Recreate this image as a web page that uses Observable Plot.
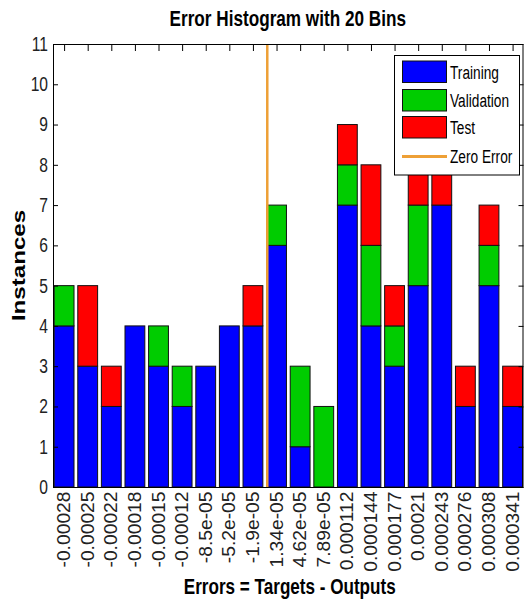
<!DOCTYPE html>
<html>
<head>
<meta charset="utf-8">
<script src="https://cdn.jsdelivr.net/npm/d3@7"></script>
<script src="https://cdn.jsdelivr.net/npm/@observablehq/plot@0.6"></script>
<style>
  html, body { margin: 0; padding: 0; background: #fff; }
  #chart { width: 524px; height: 602px; overflow: hidden; }
</style>
</head>
<body>
<div id="chart"></div>
<script>
// Bin centres as printed under each bar
const binLabels = ["-0.00028", "-0.00025", "-0.00022", "-0.00018", "-0.00015", "-0.00012",
  "-8.5e-05", "-5.2e-05", "-1.9e-05", "1.34e-05", "4.62e-05", "7.89e-05",
  "0.000112", "0.000144", "0.000177", "0.00021", "0.000243", "0.000276", "0.000308", "0.000341"];

// Instances per bin for each data split
const training   = [4, 3, 2, 4, 3, 2, 3, 4, 4, 6, 1, 0, 7, 4, 3, 5, 7, 2, 5, 2];
const validation = [1, 0, 0, 0, 1, 1, 0, 0, 0, 1, 2, 2, 1, 2, 1, 2, 0, 0, 1, 0];
const test       = [0, 2, 1, 0, 0, 0, 0, 0, 1, 0, 0, 0, 1, 2, 1, 1, 1, 1, 1, 1];

const seriesNames  = ["Training", "Validation", "Test"];
const seriesColors = ["#0000ff", "#00cc00", "#ff0000"];
const yTicks = [0, 1, 2, 3, 4, 5, 6, 7, 8, 9, 10, 11];

const titleText  = "Error Histogram with 20 Bins";
const xLabelText = "Errors = Targets - Outputs";
const yLabelText = "Instances";
const zeroLabel  = "Zero Error";

const FONT = "'Liberation Sans', Arial, Helvetica, sans-serif";
const ZERO_COLOR = "#eea036";

// Stack the three splits inside each bin
const segments = [];
binLabels.forEach((label, i) => {
  let base = 0;
  [training, validation, test].forEach((arr, s) => {
    const v = arr[i];
    if (v > 0) segments.push({bin: i, series: seriesNames[s], y1: base, y2: base + v});
    base += v;
  });
});

// Zero error falls between the last negative and first positive bin centre
const firstPos = binLabels.findIndex(l => +l > 0);
const lo = +binLabels[firstPos - 1], hi = +binLabels[firstPos];
const zeroIndex = (firstPos - 1) + (0 - lo) / (hi - lo);

const binIdx = binLabels.map((_, i) => i);
const half = 0.42;
const blank = () => "";

const M = {top: 44, right: 1.5, bottom: 115, left: 53};
const W = 524, H = 602;

const chart = Plot.plot({
  width: W,
  height: H,
  marginTop: M.top,
  marginBottom: M.bottom,
  marginLeft: M.left,
  marginRight: M.right,
  style: {fontFamily: FONT, background: "white", color: "black"},
  x: {type: "linear", domain: [-0.47, binLabels.length - 0.58]},
  y: {domain: [0, 11]},
  color: {domain: seriesNames, range: seriesColors},
  marks: [
    Plot.axisX(binIdx, {anchor: "bottom", tickSize: -5, tickFormat: blank, label: null}),
    Plot.rect(segments, {
      x1: d => d.bin - half, x2: d => d.bin + half,
      y1: "y1", y2: "y2",
      fill: "series", stroke: "#111", strokeWidth: 1
    }),
    Plot.ruleX([zeroIndex], {stroke: ZERO_COLOR, strokeWidth: 2.5}),
    Plot.axisX(binIdx, {anchor: "top", tickSize: -6, tickFormat: blank, label: null}),
    Plot.axisY(yTicks, {anchor: "right", tickSize: -5, tickFormat: blank, label: null}),
    Plot.axisY(yTicks, {anchor: "left", tickSize: -5, tickFormat: blank, label: null}),
    Plot.axisY(yTicks, {anchor: "left", tickSize: 0, tickPadding: 5.5, fontSize: 20,
      fill: "#222", tickFormat: d => String(d), label: null}),
    Plot.axisX(binIdx, {anchor: "bottom", tickSize: 0, tickPadding: 4, tickRotate: -90,
      fontSize: 17.5, fill: "#222", tickFormat: i => binLabels[i], label: null}),
    Plot.frame({stroke: "black", strokeWidth: 1})
  ]
});

document.getElementById("chart").appendChild(chart);

const svg = d3.select(chart);

// Narrow or widen axis tick text to the proportions of the original figure
function squeeze(sel, factor) {
  sel.each(function () {
    const len = this.getComputedTextLength();
    if (len > 0) {
      this.setAttribute("textLength", len * factor);
      this.setAttribute("lengthAdjust", "spacingAndGlyphs");
    }
  });
}

squeeze(svg.selectAll('g[aria-label="y-axis tick label"] text'), 0.78);
squeeze(svg.selectAll('g[aria-label="x-axis tick label"] text'), 1.1);

// Free-standing text, drawn at (x, y), rotated, then stretched along its run
function label(parent, str, {x, y, rotate = 0, stretch = 1, anchor = "middle", size, weight = "normal", dy = null}) {
  return parent.append("text")
    .attr("transform", `translate(${x},${y}) rotate(${rotate}) scale(${stretch},1)`)
    .attr("text-anchor", anchor)
    .attr("dy", dy)
    .attr("font-family", FONT)
    .attr("font-size", size)
    .attr("font-weight", weight)
    .attr("fill", "black")
    .text(str);
}

const frameLeft = M.left, frameRight = W - M.right, frameTop = M.top, frameBottom = H - M.bottom;
const cx = (frameLeft + frameRight) / 2, cy = (frameTop + frameBottom) / 2;

label(svg, titleText, {x: cx, y: 26, size: 22, weight: "bold", stretch: 0.78});
label(svg, xLabelText, {x: cx + 2, y: 594, size: 22.5, weight: "bold", stretch: 0.76});
label(svg, yLabelText, {x: 18, y: cy, rotate: -90, size: 19, weight: "bold", stretch: 1.27, dy: "0.35em"});

// Legend box in the upper right corner of the axes
const legend = svg.append("g").attr("text-anchor", "start");
legend.append("rect")
  .attr("x", 394.5).attr("y", 55.5).attr("width", 125).attr("height", 119.5)
  .attr("fill", "white").attr("stroke", "black").attr("stroke-width", 1);

const rows = [72, 100.5, 127.5, 156.5];
seriesNames.forEach((name, k) => {
  legend.append("rect")
    .attr("x", 402.5).attr("y", rows[k] - 11).attr("width", 44).attr("height", 21.5)
    .attr("fill", seriesColors[k]).attr("stroke", "#111").attr("stroke-width", 1);
});
legend.append("line")
  .attr("x1", 402).attr("x2", 447).attr("y1", rows[3]).attr("y2", rows[3])
  .attr("stroke", ZERO_COLOR).attr("stroke-width", 3);

[...seriesNames, zeroLabel].forEach((name, k) => {
  label(legend, name, {x: 450, y: rows[k], anchor: "start", size: 19, stretch: 0.72, dy: "0.36em"});
});
</script>
</body>
</html>
